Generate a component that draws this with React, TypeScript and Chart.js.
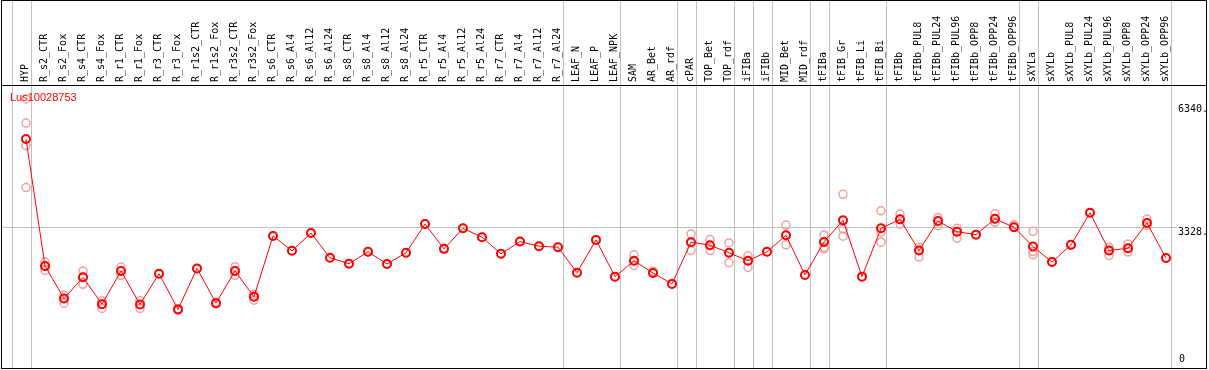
import React, { useEffect, useRef } from 'react';
import { Chart, registerables } from 'chart.js';

Chart.register(...registerables);

const chartTitle = 'Lus10028753';

const categories = [
  'HYP', 'R_s2_CTR', 'R_s2_Fox', 'R_s4_CTR', 'R_s4_Fox', 'R_r1_CTR', 'R_r1_Fox', 'R_r3_CTR', 'R_r3_Fox',
  'R_r1s2_CTR', 'R_r1s2_Fox', 'R_r3s2_CTR', 'R_r3s2_Fox', 'R_s6_CTR', 'R_s6_Al4', 'R_s6_Al12', 'R_s6_Al24',
  'R_s8_CTR', 'R_s8_Al4', 'R_s8_Al12', 'R_s8_Al24', 'R_r5_CTR', 'R_r5_Al4', 'R_r5_Al12', 'R_r5_Al24',
  'R_r7_CTR', 'R_r7_Al4', 'R_r7_Al12', 'R_r7_Al24', 'LEAF_N', 'LEAF_P', 'LEAF_NPK', 'SAM', 'AR_Bet', 'AR_rdf',
  'cPAR', 'TOP_Bet', 'TOP_rdf', 'iFIBa', 'iFIBb', 'MID_Bet', 'MID_rdf', 'tFIBa', 'tFIB_Gr', 'tFIB_Li', 'tFIB_Bi',
  'tFIBb', 'tFIBb_PUL8', 'tFIBb_PUL24', 'tFIBb_PUL96', 'tFIBb_OPP8', 'tFIBb_OPP24', 'tFIBb_OPP96', 'sXYLa',
  'sXYLb', 'sXYLb_PUL8', 'sXYLb_PUL24', 'sXYLb_PUL96', 'sXYLb_OPP8', 'sXYLb_OPP24', 'sXYLb_OPP96',
];

const meanValues = [
  5478, 2385, 1595, 2110, 1457, 2264, 1450, 2199, 1329, 2327, 1481, 2264, 1636, 3117, 2755, 3190, 2586,
  2441, 2731, 2434, 2707, 3407, 2803, 3303, 3086, 2682, 2980, 2868, 2844, 2223, 3021, 2127, 2513, 2216, 1950,
  2965, 2893, 2707, 2513, 2731, 3134, 2168, 2972, 3497, 2127, 3303, 3521, 2762, 3480, 3221, 3149, 3535, 3328,
  2859, 2482, 2900, 3680, 2762, 2820, 3432, 2579,
];

const replicateValues: number[][] = [
  [6452, 5865, 5317, 4294], [2482, 2385, 2279], [1675, 1595, 1481], [2264, 2110, 1941], [1539, 1457, 1353],
  [2361, 2264, 2158], [1539, 1450, 1353], [2199], [1345, 1315], [2327], [1500, 1465], [2368, 2264, 2158],
  [1699, 1636, 1554], [3117], [2755], [3190], [2586], [2441], [2731], [2434], [2707], [3407], [2803], [3303],
  [3086], [2682], [2980], [2868], [2844], [2223], [3021], [2127], [2658, 2513, 2400], [2260, 2216], [1950],
  [3166, 2965, 2762], [3028, 2893, 2762], [2948, 2707, 2465], [2634, 2513, 2351], [2731], [3383, 3134, 2900],
  [2168], [3142, 2972, 2844, 2803], [4132, 3286, 3110], [2127], [3729, 3207, 2965], [3649, 3521, 3407],
  [2844, 2762, 2603], [3569, 3480, 3366], [3303, 3221, 3062], [3149], [3656, 3535, 3449], [3391, 3328],
  [3231, 2738, 2658], [2482], [2900], [3680], [2844, 2762, 2641], [2924, 2820, 2724], [3528, 3432, 3366], [2579],
];

// indices after which a group separator line is drawn (-1 = before first)
const groupBreaks = [-1, 0, 28, 31, 34, 35, 37, 38, 39, 41, 42, 45, 52, 53, 60];
const yTickValues = [6340, 3328, 0];
const yTickLabels = ['6340.', '3328.', '0'];
const gridValue = 3328;
const yMin = 0;
const yMax = 6792;

const decorPlugin = {
  id: 'decor',
  beforeDatasetsDraw(chart: any) {
    const { ctx } = chart;
    const xs = chart.scales.x;
    const ys = chart.scales.y;
    ctx.save();
    ctx.strokeStyle = '#c0c0c0';
    ctx.lineWidth = 1;
    groupBreaks.forEach((k) => {
      const x = Math.round(xs.getPixelForValue(k + 0.24)) + 0.5;
      ctx.beginPath();
      ctx.moveTo(x, 0);
      ctx.lineTo(x, 368);
      ctx.stroke();
    });
    const gy = Math.round(ys.getPixelForValue(gridValue)) + 0.5;
    ctx.beginPath();
    ctx.moveTo(1, gy);
    ctx.lineTo(1177, gy);
    ctx.stroke();
    ctx.restore();
  },
  afterDraw(chart: any) {
    const { ctx } = chart;
    const ys = chart.scales.y;
    ctx.save();
    ctx.strokeStyle = '#000';
    ctx.lineWidth = 1;
    ctx.strokeRect(1.5, 0.5, 1205, 368);
    ctx.beginPath();
    ctx.moveTo(1, 85.5);
    ctx.lineTo(1207, 85.5);
    ctx.stroke();
    ctx.fillStyle = '#000';
    ctx.font = '10px "DejaVu Sans Mono"';
    ctx.textAlign = 'left';
    yTickValues.forEach((v, i) => {
      const y = ys.getPixelForValue(v);
      if (v === 0) {
        ctx.textBaseline = 'bottom';
        ctx.fillText(yTickLabels[i], 1179, y);
      } else {
        ctx.textBaseline = 'top';
        ctx.fillText(yTickLabels[i], 1178, y + 0.5);
      }
    });
    ctx.fillStyle = '#ff0000';
    ctx.font = '11px "Liberation Sans"';
    ctx.textBaseline = 'alphabetic';
    ctx.fillText(chartTitle, 10, 101);
    ctx.restore();
  },
};

export default function App() {
  const ref = useRef<HTMLCanvasElement>(null);
  useEffect(() => {
    document.body.style.margin = '0';
    const canvas = ref.current;
    if (!canvas) return;
    const replicatePoints: { x: string; y: number }[] = [];
    replicateValues.forEach((vals, i) => vals.forEach((v) => replicatePoints.push({ x: categories[i], y: v })));
    const chart = new Chart(canvas, {
      type: 'line',
      data: {
        labels: categories,
        datasets: [
          {
            label: 'mean',
            data: meanValues,
            borderColor: '#ff0000',
            borderWidth: 1,
            pointRadius: 4,
            pointBorderWidth: 2,
            pointBorderColor: '#ff0000',
            pointBackgroundColor: 'rgba(0,0,0,0)',
            tension: 0,
          },
          {
            label: 'replicates',
            data: replicatePoints as any,
            showLine: false,
            pointRadius: 4,
            pointBorderWidth: 1.5,
            pointBorderColor: '#f0a0a0',
            pointBackgroundColor: 'rgba(0,0,0,0)',
            borderColor: '#f0a0a0',
          },
        ],
      },
      options: {
        responsive: false,
        animation: false,
        devicePixelRatio: 1,
        layout: { padding: { left: 16.5, right: 33.5, top: 0, bottom: 4 } },
        plugins: { legend: { display: false }, tooltip: { enabled: false }, title: { display: false } },
        scales: {
          x: {
            type: 'category',
            position: 'top',
            offset: true,
            grid: { display: false, drawTicks: false },
            border: { display: false },
            ticks: {
              autoSkip: false,
              maxRotation: 90,
              minRotation: 90,
              padding: 3,
              labelOffset: 11.5,
              color: '#000',
              font: { family: '"DejaVu Sans Mono"', size: 10 },
            },
            afterFit: (scale: any) => {
              scale.height = 85;
            },
          },
          y: {
            display: false,
            min: yMin,
            max: yMax,
          },
        },
      },
      plugins: [decorPlugin],
    });
    return () => chart.destroy();
  }, []);
  return (
    <div style={{ position: 'absolute', left: 0, top: 0, width: 1209, height: 370, background: '#fff' }}>
      <canvas ref={ref} width={1209} height={370} style={{ display: 'block', width: 1209, height: 370 }} />
    </div>
  );
}
